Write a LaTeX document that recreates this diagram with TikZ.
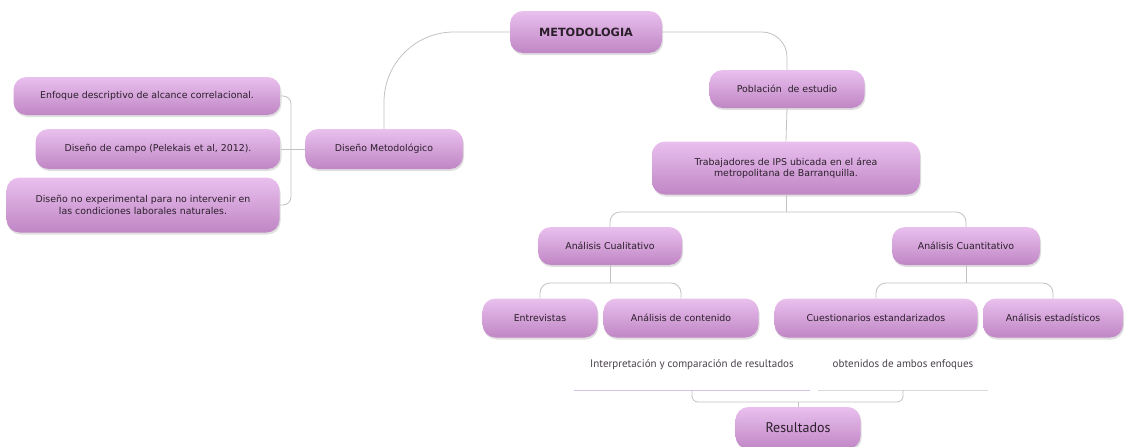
\documentclass[tikz,border=0pt]{standalone}
\usepackage{fontspec}
\setmainfont{DejaVu Sans}
\newfontfamily\ptsans{PT Sans}
\usetikzlibrary{shadows}
\definecolor{lilatop}{HTML}{E9C0EE}
\definecolor{lilabot}{HTML}{C086C5}
\definecolor{linea}{HTML}{C2C2C2}
\definecolor{texto}{HTML}{2B1F2B}
\definecolor{lilaline}{HTML}{D6BFE2}
\definecolor{grisline}{HTML}{DADADA}
\tikzset{
  caja/.style={rectangle, rounded corners=13pt, top color=lilatop, bottom color=lilabot,
    text=texto, font=\fontsize{9.4}{11.5}\selectfont, align=center, inner sep=0pt,
    drop shadow={opacity=0.25, shadow xshift=1pt, shadow yshift=-2pt}},
  nota/.style={rectangle, fill=white, text=texto!85, font=\ptsans\fontsize{11}{13}\selectfont,
    inner sep=0pt, minimum height=50pt},
  conector/.style={draw=linea, line width=0.8pt, rounded corners=10pt}
}
\begin{document}
\begin{tikzpicture}[x=1pt, y=-1pt]
\useasboundingbox[fill=white] (0,0) rectangle (1128,447);

\node[caja, minimum width=152pt, minimum height=42pt, font=\bfseries\fontsize{11.3}{13}\selectfont] (1) at (586,32) {METODOLOGIA};
\node[caja, minimum width=158pt, minimum height=40pt] (2) at (384,149) {Diseño Metodológico};
\node[caja, minimum width=267pt, minimum height=38pt] (3) at (147,96) {Enfoque descriptivo de alcance correlacional.};
\node[caja, minimum width=245pt, minimum height=40pt] (4) at (158,149) {Diseño de campo (Pelekais et al, 2012).};
\node[caja, minimum width=273pt, minimum height=55pt] (5) at (143,205) {Diseño no experimental para no intervenir en\\las condiciones laborales naturales.};
\node[caja, minimum width=155pt, minimum height=38pt] (6) at (787,89) {Población\ \ de estudio};
\node[caja, minimum width=268pt, minimum height=53pt] (7) at (786,168) {Trabajadores de IPS ubicada en el área\\metropolitana de Barranquilla.};
\node[caja, minimum width=144pt, minimum height=38pt] (8) at (610,246) {Análisis Cualitativo};
\node[caja, minimum width=148pt, minimum height=38pt] (9) at (966,246) {Análisis Cuantitativo};
\node[caja, minimum width=115pt, minimum height=39pt] (10) at (540,318) {Entrevistas};
\node[caja, minimum width=155pt, minimum height=39pt] (11) at (681,318) {Análisis de contenido};
\node[caja, minimum width=203pt, minimum height=39pt] (12) at (876,318) {Cuestionarios estandarizados};
\node[caja, minimum width=140pt, minimum height=39pt] (13) at (1053,318) {Análisis estadísticos};
\node[nota, minimum width=235pt] (14) at (692,365) {Interpretación y comparación de resultados};
\node[nota, minimum width=170pt] (15) at (903,365) {obtenidos de ambos enfoques};
\node[caja, minimum width=125pt, minimum height=42pt, font=\ptsans\fontsize{14}{16}\selectfont] (16) at (798,428) {Resultados};

\coordinate (2b) at (291,149);
\coordinate (7b) at (786,212);
\coordinate (8b) at (610,283);
\coordinate (9b) at (966,283);
\coordinate (16b) at (798,402);

\path[draw, color=lilaline, line width=1.2pt] (14.south west) -- (14.south east);
\path[draw, color=grisline, line width=1.2pt] (15.south west) -- (15.south east);

\path[conector, rounded corners=70pt] (1.west) -| (2.north);
\path[conector, rounded corners=25pt] (1.east) -| (6.north);
\path[conector] (2.west) -- (2b);
\path[conector, rounded corners=8pt] (3.east) -| (2b) |- (5.east);
\path[conector] (4.east) -- (2b);
\path[conector] (6.south) -- (7.north);
\path[conector] (7.south) -- (7b);
\path[conector] (8.north) |- (7b) -| (9.north);
\path[conector] (8.south) -- (8b);
\path[conector] (10.north) |- (8b) -| (11.north);
\path[conector] (9.south) -- (9b);
\path[conector] (12.north) |- (9b) -| (13.north);
\path[conector, rounded corners=6pt] (14.south) |- (16b) -| (15.south);
\path[conector] (16b) -- (16.north);
\end{tikzpicture}
\end{document}
